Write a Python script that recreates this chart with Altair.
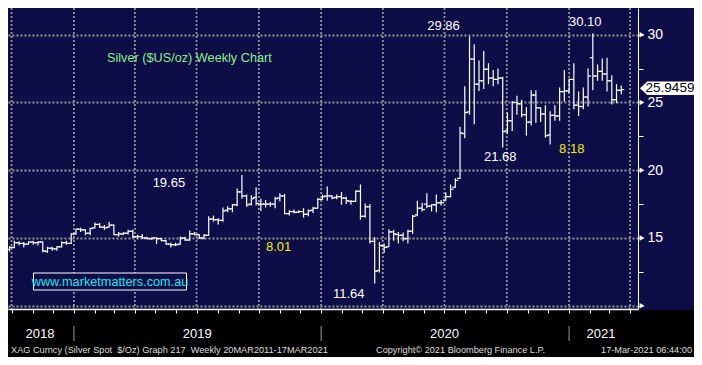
import altair as alt
import pandas as pd

# ---------------- data: weekly OHLC, XAG spot, weeks ending Fri 28-Sep-2018 .. 19-Mar-2021
week_start = "2018-09-28"
opens = [14.15, 14.30, 14.65, 14.60, 14.55, 14.70, 14.65, 14.70, 14.00, 14.25,
         14.20, 14.35, 14.65, 14.60, 15.30, 15.65, 15.60, 15.35, 15.75, 16.00,
         15.80, 15.80, 15.95, 15.25, 15.30, 15.35, 15.50, 15.10, 15.10, 15.00,
         14.95, 15.00, 14.95, 14.80, 14.55, 14.50, 14.55, 15.00, 14.85, 15.30,
         15.25, 15.00, 15.20, 16.40, 16.35, 16.30, 17.05, 17.15, 17.45, 18.40,
         18.10, 17.50, 18.00, 17.50, 17.50, 17.50, 17.50, 17.95, 18.10, 16.80,
         16.95, 16.90, 16.95, 16.75, 17.05, 17.20, 17.85, 18.10, 18.10, 18.00,
         18.05, 17.95, 17.70, 17.70, 18.45, 16.60, 17.30, 14.75, 12.60, 14.40,
         14.35, 15.45, 15.25, 15.20, 14.95, 15.50, 16.70, 17.20, 17.50, 17.35,
         17.45, 17.60, 17.80, 18.05, 18.75, 19.40, 22.70, 24.30, 28.20, 26.35,
         26.60, 27.45, 26.80, 26.70, 26.80, 22.90, 23.65, 25.00, 24.90, 24.10,
         23.55, 25.55, 24.60, 24.15, 22.60, 24.05, 24.00, 25.80, 25.85, 26.70,
         24.80, 24.70, 25.40, 28.30, 26.95, 27.30, 27.10, 26.60, 25.20, 25.90]
highs = [14.40, 14.80, 14.75, 14.70, 14.75, 14.80, 14.75, 14.75, 14.35, 14.35,
         14.40, 14.75, 14.80, 15.35, 15.70, 15.75, 15.65, 15.75, 16.15, 16.10,
         15.95, 16.20, 16.00, 15.45, 15.45, 15.60, 15.60, 15.25, 15.30, 15.10,
         15.05, 15.05, 15.00, 14.85, 14.65, 14.65, 15.10, 15.10, 15.55, 15.45,
         15.30, 15.30, 16.60, 16.65, 16.45, 17.25, 17.35, 17.50, 18.65, 19.65,
         18.20, 18.15, 18.75, 17.90, 17.80, 17.65, 18.05, 18.30, 18.25, 17.05,
         17.10, 17.05, 17.20, 17.10, 17.30, 17.95, 18.20, 18.80, 18.15, 18.20,
         18.40, 18.05, 17.80, 18.50, 18.95, 17.55, 17.50, 15.05, 14.70, 14.60,
         15.65, 15.60, 15.45, 15.40, 15.60, 16.70, 17.75, 17.60, 18.30, 17.50,
         18.20, 17.80, 18.35, 18.95, 19.40, 23.20, 26.20, 29.86, 29.30, 28.10,
         28.80, 27.90, 27.40, 27.50, 26.90, 24.25, 25.10, 25.50, 25.20, 24.65,
         25.90, 25.90, 24.65, 24.80, 24.35, 24.80, 26.10, 27.40, 26.75, 27.90,
         25.80, 26.10, 27.50, 30.10, 27.80, 28.25, 28.30, 27.00, 26.35, 26.25]
lows = [14.00, 14.25, 14.45, 14.30, 14.50, 14.50, 14.45, 13.95, 13.90, 14.05,
        14.05, 14.30, 14.50, 14.55, 15.25, 15.45, 15.20, 15.20, 15.70, 15.75,
        15.60, 15.75, 15.20, 15.10, 15.20, 15.25, 15.00, 14.95, 14.95, 14.90,
        14.85, 14.55, 14.75, 14.50, 14.30, 14.40, 14.50, 14.80, 14.80, 15.20,
        14.95, 14.90, 15.15, 16.20, 16.00, 16.20, 16.90, 16.90, 17.35, 17.90,
        17.30, 17.40, 17.40, 17.00, 17.25, 17.30, 17.20, 17.70, 16.75, 16.65,
        16.80, 16.85, 16.50, 16.60, 16.85, 17.15, 17.80, 17.75, 17.85, 17.85,
        17.45, 17.50, 17.45, 17.65, 16.35, 16.50, 14.60, 11.64, 12.45, 13.90,
        14.35, 14.80, 14.60, 14.75, 14.60, 15.30, 16.60, 16.95, 17.20, 16.95,
        16.90, 17.40, 17.75, 18.00, 18.70, 19.35, 22.35, 24.10, 23.40, 25.85,
        26.00, 26.35, 26.20, 26.35, 21.68, 22.70, 22.90, 24.10, 23.90, 22.55,
        23.30, 23.50, 23.55, 22.40, 21.90, 23.65, 23.65, 25.05, 25.70, 24.50,
        24.00, 24.50, 24.70, 25.90, 26.60, 26.60, 25.80, 24.85, 24.95, 25.60]
closes = [14.30, 14.65, 14.60, 14.55, 14.70, 14.65, 14.70, 14.05, 14.25, 14.20,
          14.35, 14.65, 14.60, 15.30, 15.65, 15.60, 15.35, 15.70, 16.00, 15.80,
          15.75, 15.95, 15.25, 15.30, 15.35, 15.50, 15.10, 15.10, 15.00, 14.95,
          15.00, 14.95, 14.80, 14.55, 14.50, 14.50, 15.00, 14.85, 15.30, 15.25,
          15.00, 15.20, 16.40, 16.35, 16.30, 17.00, 17.15, 17.45, 18.40, 18.10,
          17.45, 17.90, 17.55, 17.50, 17.50, 17.50, 17.90, 18.10, 16.80, 16.95,
          16.90, 16.95, 16.75, 17.00, 17.20, 17.85, 18.05, 18.10, 17.95, 18.05,
          17.95, 17.75, 17.70, 18.45, 16.60, 17.30, 14.75, 12.55, 14.45, 14.30,
          15.45, 15.30, 15.20, 14.95, 15.50, 16.60, 17.20, 17.10, 17.35, 17.45,
          17.60, 17.60, 18.05, 18.60, 19.25, 22.75, 24.25, 28.20, 26.35, 26.60,
          27.45, 26.80, 26.70, 26.80, 22.85, 23.65, 25.00, 24.90, 24.10, 23.55,
          25.55, 24.60, 24.15, 22.55, 24.05, 24.00, 25.80, 25.85, 26.70, 24.80,
          24.70, 25.40, 26.95, 26.95, 27.30, 27.10, 26.60, 25.20, 25.90, 25.9459]

quarter_lines = ["2018-10-01", "2019-01-01", "2019-04-01", "2019-07-01", "2019-10-01",
                 "2020-01-01", "2020-04-01", "2020-07-01", "2020-10-01", "2021-01-01",
                 "2021-04-01"]
year_labels = ["2018", "2019", "2020", "2021"]
year_centres = ["2018-11-12", "2019-07-02", "2020-07-01", "2021-02-17"]
year_breaks = ["2019-01-01", "2020-01-01", "2021-01-01"]
price_ticks = [10, 12.5, 15, 17.5, 20, 22.5, 25, 27.5, 30]
major_ticks = [10, 15, 20, 25, 30]

# (label, week index, anchor field, colour, dx, dy)
annotations = [
    ("29.86", 97, "high", "#ffffff", -26, -10.5),
    ("30.10", 123, "high", "#ffffff", -7.5, -11),
    ("21.68", 104, "low", "#ffffff", -2.5, 9.5),
    ("11.64", 77, "low", "#ffffff", -26, 10),
    ("19.65", 49, "high", "#ffffff", -73, 8.5),
    ("8.01", 77, "low", "#f0f000", -96, -36.5),
    ("8.18", 104, "low", "#f0f000", 69, 2),
]

chart_title = "Silver ($US/oz) Weekly Chart"
website = "www.marketmatters.com.au"
footer_left = "XAG Curncy (Silver Spot \u00a0$/Oz) Graph 217 \u00a0Weekly 20MAR2011-17MAR2021"
footer_mid = "Copyright\u00a9 2021 Bloomberg Finance L.P."
footer_right = "17-Mar-2021 06:44:00"

# ---------------- layout
W, H = 630, 301
PR, PB = 56, 48
NAVY = "#0f0d48"
GRID = "#969696"
FONT = "Liberation Sans"

weeks = pd.date_range(week_start, periods=len(opens), freq="7D")
df = pd.DataFrame({"date": weeks.strftime("%Y-%m-%d"), "open": opens, "high": highs,
                   "low": lows, "close": closes})

month_ticks = pd.date_range("2018-10-01", "2021-04-01", freq="MS")
x_scale = alt.Scale(type="utc", domain=[
    alt.DateTime(year=2018, month=9, date=25, hours=17, utc=True),
    alt.DateTime(year=2021, month=4, date=12, hours=17, utc=True)])
x_axis = alt.Axis(values=[alt.DateTime(year=int(d.year), month=int(d.month), date=1, utc=True)
                          for d in month_ticks],
                  labels=False, grid=False, domainColor="white", domainWidth=1.5,
                  tickColor="white", tickSize=4, tickWidth=1, zindex=1, title=None)
y_scale = alt.Scale(domain=[9.76, 31.97], nice=False, zero=False)
y_axis = alt.Axis(orient="right", values=price_ticks,
                  labelExpr="datum.value % 5 == 0 && datum.value > 10 ? datum.label : ''",
                  labelColor="white", labelFontSize=14, labelFont=FONT, labelPadding=4,
                  tickColor="white", tickSize=5, tickWidth=1,
                  domainColor="white", domainWidth=1,
                  grid=True, gridColor=GRID, gridDash=[2, 2], gridWidth=1.8,
                  gridOpacity={"condition": {"test": "datum.value % 5 == 0", "value": 1}, "value": 0},
                  title=None)


def X(field="date"):
    return alt.X(f"{field}:T", scale=x_scale, axis=x_axis, title=None)


def Y(field):
    return alt.Y(f"{field}:Q", scale=y_scale, axis=y_axis, title=None)


one = pd.DataFrame({"k": [0]})
layers = []

# quarter grid lines
layers.append(alt.Chart(pd.DataFrame({"date": quarter_lines})).mark_rule(
    color=GRID, strokeDash=[2, 2], strokeWidth=1.8).encode(x=X()))

base = alt.Chart(df)
layers.append(base.mark_rule(color="white", strokeWidth=1.2).encode(
    x=X(), y=Y("low"), y2=alt.Y2("high")))
layers.append(base.mark_tick(orient="horizontal", size=3, thickness=1.2, xOffset=-1.5,
                             color="white", opacity=1).encode(x=X(), y=Y("open")))
layers.append(base.mark_tick(orient="horizontal", size=3, thickness=1.2, xOffset=1.5,
                             color="white", opacity=1).encode(x=X(), y=Y("close")))

# footer band
layers.append(alt.Chart(one).mark_rect(color="black").encode(
    x=alt.value(0), x2=alt.value(W + PR), y=alt.value(H + 1), y2=alt.value(H + PB)))

# y-axis arrow markers
layers.append(alt.Chart(pd.DataFrame({"v": major_ticks})).mark_point(
    shape="triangle-right", filled=True, size=30, color="white", opacity=1).encode(
    x=alt.value(W + 4), y=Y("v")))

# last price box
last_df = pd.DataFrame({"v": [closes[-1]], "t": [f"{closes[-1]:.4f}"]})
box_path = "M -1 0 L -0.73 -0.25 L 1 -0.25 L 1 0.25 L -0.73 0.25 Z"
layers.append(alt.Chart(last_df).mark_point(
    shape=box_path, filled=True, size=2916, color="white", opacity=1, strokeWidth=0).encode(
    x=alt.value(W + 29), y=Y("v"), yOffset=alt.value(-1.5)))
layers.append(alt.Chart(last_df).mark_text(
    color="black", fontSize=13.5, font=FONT, align="center", baseline="middle", dy=-1.5).encode(
    x=alt.value(W + 32), y=Y("v"), text="t:N"))

# price annotations
for label, k, field, colour, dx, dy in annotations:
    adf = pd.DataFrame({"date": [df["date"][k]], "v": [df[field][k]], "t": [label]})
    layers.append(alt.Chart(adf).mark_text(
        color=colour, fontSize=13, font=FONT, align="center", baseline="middle",
        dx=dx, dy=dy).encode(x=X(), y=Y("v"), text="t:N"))

# chart title
layers.append(alt.Chart(pd.DataFrame({"t": [chart_title]})).mark_text(
    color="#86f086", fontSize=12.7, font=FONT, align="left", baseline="middle").encode(
    x=alt.value(99), y=alt.value(50), text="t:N"))

# website box
layers.append(alt.Chart(one).mark_rect(fill=NAVY, stroke="white", strokeWidth=1).encode(
    x=alt.value(25.5), x2=alt.value(178.5), y=alt.value(265), y2=alt.value(282)))
layers.append(alt.Chart(pd.DataFrame({"t": [website]})).mark_text(
    color="#22e6f0", fontSize=12.7, font=FONT, align="center", baseline="middle").encode(
    x=alt.value(102), y=alt.value(274), text="t:N"))

# year labels and separators
layers.append(alt.Chart(pd.DataFrame({"date": year_centres, "t": year_labels})).mark_text(
    color="white", fontSize=13, font=FONT, align="center", baseline="middle").encode(
    x=X(), y=alt.value(326), text="t:N"))
layers.append(alt.Chart(pd.DataFrame({"date": year_breaks})).mark_rule(
    color="#9a9a9a", strokeWidth=1).encode(x=X(), y=alt.value(318), y2=alt.value(333)))

# footer texts
for txt, xpos, al in [(footer_left, 3, "left"), (footer_mid, 368, "left"),
                      (footer_right, 684, "right")]:
    layers.append(alt.Chart(pd.DataFrame({"t": [txt]})).mark_text(
        color="#dedede", fontSize=9.2, font=FONT, align=al, baseline="middle").encode(
        x=alt.value(xpos), y=alt.value(342), text="t:N"))

chart = alt.layer(*layers).properties(
    width=W, height=H, background=NAVY,
    padding={"left": 0, "top": 0, "right": PR, "bottom": PB},
    autosize=alt.AutoSizeParams(type="none"),
).configure_view(stroke=None, fill=NAVY)

chart.save("out.html", embed_options={"renderer": "svg", "actions": False})
